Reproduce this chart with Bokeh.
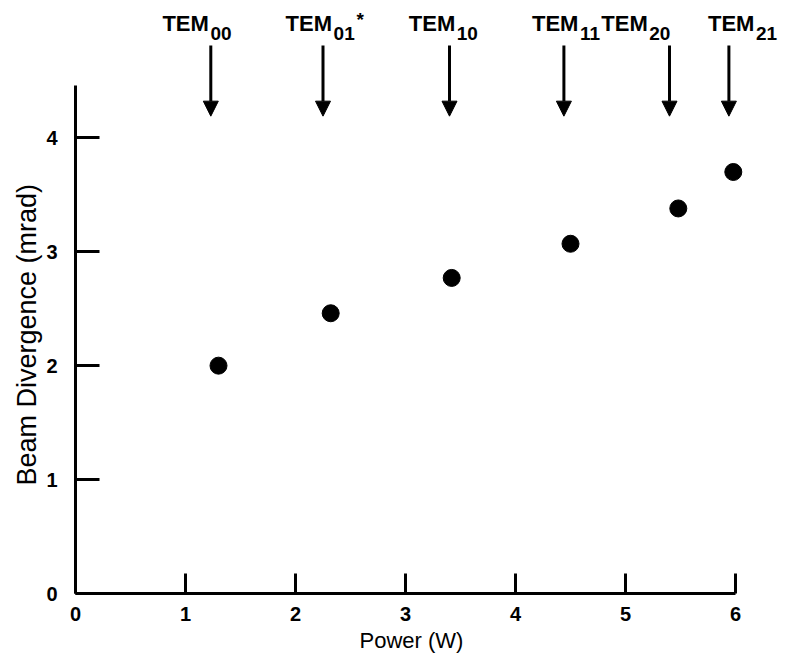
from bokeh.plotting import figure
from bokeh.models import ColumnDataSource, LabelSet, Title, Arrow, NormalHead, FixedTicker
from bokeh.core.properties import value
from bokeh.embed import file_html
from bokeh.resources import INLINE

# ---- data ----
power = [1.30, 2.32, 3.42, 4.50, 5.48, 5.98]          # W
divergence = [2.00, 2.46, 2.77, 3.07, 3.38, 3.70]     # mrad
mode_power = [1.23, 2.25, 3.40, 4.44, 5.40, 5.94]     # arrow positions (W)
mode_label_x = [0.79, 1.91, 3.03, 4.15, 4.78, 5.75]   # left edge of each mode label (W)
mode_sub = ["00", "01", "10", "11", "20", "21"]
mode_sup = ["", "*", "", "", "", ""]
x_ticks = [0, 1, 2, 3, 4, 5, 6]
y_ticks = [0, 1, 2, 3, 4]
x_title = "Power (W)"
y_title = "Beam Divergence (mrad)"

FONT = value("Liberation Sans")

p = figure(width=790, height=664, x_range=(0, 6.5), y_range=(0, 5.1),
           output_backend="svg", toolbar_location=None,
           min_border_left=75, min_border_right=0, min_border_top=12, min_border_bottom=71)
p.outline_line_color = None
p.xgrid.grid_line_color = None
p.ygrid.grid_line_color = None
p.background_fill_color = "white"
p.border_fill_color = "white"

for ax in (p.xaxis[0], p.yaxis[0]):
    ax.axis_line_width = 3
    ax.axis_line_color = "black"
    ax.major_tick_line_width = 3
    ax.major_tick_line_color = "black"
    ax.minor_tick_line_color = None
    ax.major_tick_out = 0
    ax.major_label_text_font = "Liberation Sans"
    ax.major_label_text_font_style = "bold"
    ax.major_label_text_color = "black"
    ax.major_label_text_font_size = "20px"

p.xaxis.ticker = FixedTicker(ticks=x_ticks)
p.yaxis.ticker = FixedTicker(ticks=y_ticks)
p.xaxis.bounds = (0, 6)
p.yaxis.bounds = (0, 4.46)
p.xaxis.major_tick_in = 20
p.yaxis.major_tick_in = 24
p.xaxis.major_label_standoff = 13
p.yaxis.major_label_standoff = 18

# axis titles, placed along the drawn axis lines
p.add_layout(Title(text=x_title, align="left", offset=284, standoff=4,
                   text_font="Liberation Sans", text_font_size="22px",
                   text_font_style="normal", text_color="black"), "below")
p.add_layout(Title(text=y_title, align="left", offset=108, standoff=4,
                   text_font="Liberation Sans", text_font_size="27px",
                   text_font_style="normal", text_color="black"), "left")

# data points
p.scatter(power, divergence, size=17, color="black")

# mode arrows
arrow_src = ColumnDataSource(dict(x=mode_power))
p.add_layout(Arrow(source=arrow_src, x_start="x", x_end="x", y_start=4.81, y_end=4.19,
                   line_width=3, line_color="black",
                   end=NormalHead(size=15, fill_color="black", line_color="black", line_width=1)))

# mode labels
lab_src = ColumnDataSource(dict(x=mode_label_x, sub=mode_sub, sup=mode_sup))
p.add_layout(LabelSet(source=lab_src, x="x", y=4.94, text=value("TEM"),
                      text_font=FONT, text_font_style="bold", text_font_size="22px",
                      text_color="black", text_baseline="alphabetic"))
p.add_layout(LabelSet(source=lab_src, x="x", y=4.855, text="sub", x_offset=48,
                      text_font=FONT, text_font_style="bold", text_font_size="19px",
                      text_color="black", text_baseline="alphabetic"))
p.add_layout(LabelSet(source=lab_src, x="x", y=4.98, text="sup", x_offset=71,
                      text_font=FONT, text_font_style="bold", text_font_size="19px",
                      text_color="black", text_baseline="alphabetic"))

open("out.html", "w").write(file_html(p, INLINE))
